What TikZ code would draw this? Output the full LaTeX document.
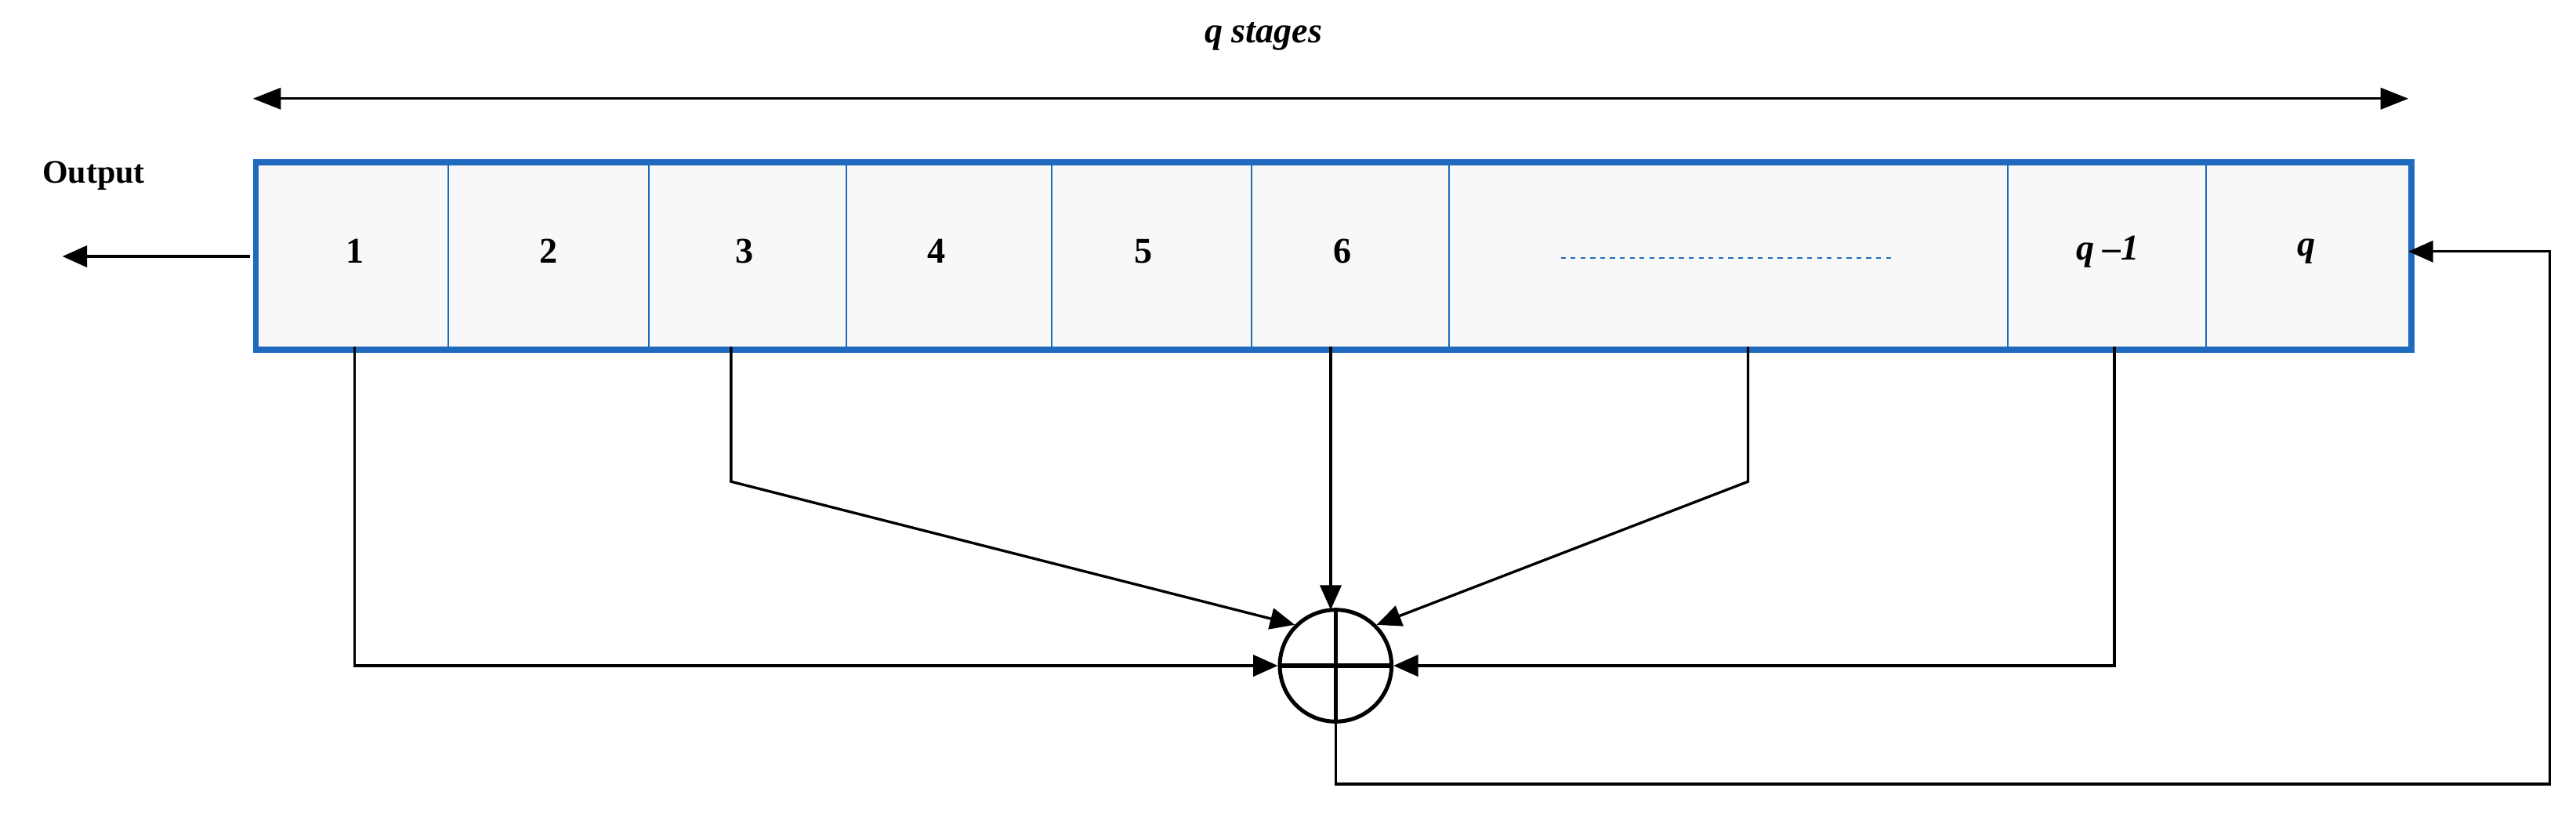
\documentclass[tikz,border=0pt]{standalone}
\usepackage{fontspec}
\setmainfont{Liberation Serif}
\usetikzlibrary{arrows.meta}
\definecolor{regblue}{RGB}{31,105,190}
\definecolor{cellfill}{RGB}{248,248,248}
\begin{document}
\begin{tikzpicture}[x=1pt,y=-1pt,
  conn/.style={black,line width=1.6pt,-{Triangle[length=15pt,width=13pt]}},
  lbl/.style={font=\fontsize{22}{24}\selectfont\bfseries},
  cellline/.style={regblue,line width=1pt}]
\useasboundingbox (0,0) rectangle (1568,497);
% register
\node[draw=regblue,line width=3.5pt,fill=cellfill,minimum width=1312pt,minimum height=114pt,inner sep=0pt,anchor=north west] (reg) at (154,97) {};
\foreach \x in {273,395,515,640,762,882,1222,1343}{\draw[cellline] (\x,97) -- (\x,211);}
\node[lbl] (c1) at (216,153) {1};
\node[lbl] (c2) at (334,153) {2};
\node[lbl] (c3) at (453,153) {3};
\node[lbl] (c4) at (570,153) {4};
\node[lbl] (c5) at (696,153) {5};
\node[lbl] (c6) at (817,153) {6};
\draw[regblue,dashed,line width=1.2pt] (950,157) -- (1152,157);
\node[lbl] (cq1) at (1283,153) {\itshape q –1};
\node[lbl] (cq) at (1404,153) {\itshape q};
% top
\node[lbl] (qs) at (769,22) {\itshape q stages};
\coordinate (tl) at (154,60); \coordinate (tr) at (1466,60);
\draw[line width=1.6pt,{Triangle[length=17pt,width=13pt]}-{Triangle[length=17pt,width=13pt]}] (tl) -- (tr);
% output
\node[font=\fontsize{20}{22}\selectfont\bfseries] (out) at (57,107) {Output};
\coordinate (os) at (152,156); \coordinate (oe) at (38,156);
\draw[conn] (os) -- (oe);
% xor
\node[draw,circle,line width=2.4pt,minimum size=68pt,inner sep=0pt] (x) at (813,405) {};
\draw[line width=2.4pt] (x.north) -- (x.south) (x.west) -- (x.east);
% taps
\coordinate (t1) at (216,211); \coordinate (t3) at (445,211); \coordinate (t6) at (810,211);
\coordinate (td) at (1064,211); \coordinate (tq) at (1287,211);
\draw[conn] (t1) -- (216,405) -- (x.west);
\draw[conn] (t3) -- (445,293) -- (x.north west);
\draw[conn] (t6) -- (810,371);
\draw[conn] (td) -- (1064,293) -- (x.north east);
\draw[conn] (tq) -- (1287,405) -- (x.east);
% feedback
\coordinate (fb) at (1466,153);
\draw[conn] (x.south) -- (813,477) -- (1552,477) -- (1552,153) -- (fb);
\end{tikzpicture}
\end{document}
